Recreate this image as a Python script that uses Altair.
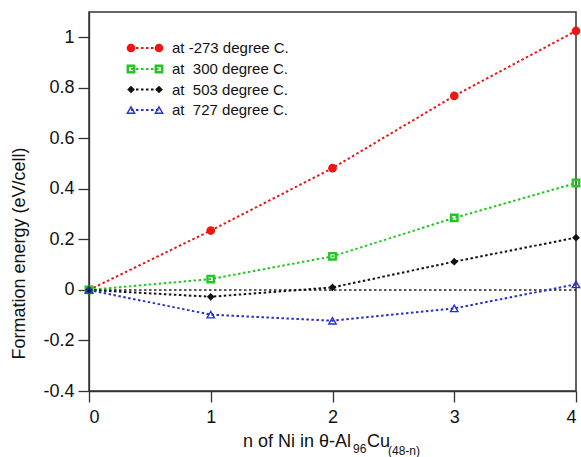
import altair as alt
import pandas as pd

n_values = [0, 1, 2, 3, 4]
series_names = ["at -273 degree C.", "at \u00a0300 degree C.", "at \u00a0503 degree C.", "at \u00a0727 degree C."]
red_vals = [0.0, 0.235, 0.482, 0.768, 1.025]
green_vals = [0.0, 0.043, 0.133, 0.285, 0.423]
black_vals = [0.0, -0.027, 0.010, 0.112, 0.207]
blue_vals = [0.0, -0.098, -0.122, -0.073, 0.022]
zero_x = [0, 4]
zero_y = [0, 0]
y_ticks = [-0.4, -0.2, 0, 0.2, 0.4, 0.6, 0.8, 1]
x_ticks = [0, 1, 2, 3, 4]

colors = ["#f01414", "#1ec81e", "#111111", "#2430d0"]
shapes = ["circle", "square", "diamond", "triangle-up"]
filled = [True, False, True, False]
sizes = [75, 42, 60, 55]
stroke_w = [1, 2.4, 1, 1.4]
all_vals = [red_vals, green_vals, black_vals, blue_vals]

FONT = "Liberation Sans"
W, H = 487, 379

xs = alt.Scale(domain=[0, 4], nice=False, zero=False)
ys = alt.Scale(domain=[-0.4, 1.1], nice=False, zero=False)

x_axis = alt.Axis(values=x_ticks, format="d", title=None, grid=False,
                  labelFontSize=18, labelFont=FONT, labelColor="#111",
                  tickSize=11, tickColor="#333", domainColor="#333",
                  labelPadding=6, tickWidth=1.3, domainWidth=1.3)
y_axis = alt.Axis(values=y_ticks, labelExpr="'' + datum.value",
                  title="Formation energy (eV/cell)", grid=False,
                  labelFontSize=18, labelFont=FONT, labelColor="#111",
                  titleFont=FONT, titleFontSize=18, titleFontWeight="normal",
                  titleColor="#111", titleX=-70, titleY=241,
                  titleBaseline="middle", titleAlign="center",
                  tickSize=11, tickColor="#333", domainColor="#333",
                  labelPadding=4, tickWidth=1.3, domainWidth=1.3)

zero_df = pd.DataFrame({"n": zero_x, "e": zero_y})
zero_line = alt.Chart(zero_df).mark_line(
    color="#222", strokeWidth=1.5, strokeDash=[2.5, 2.5]
).encode(x=alt.X("n:Q", scale=xs, axis=x_axis), y=alt.Y("e:Q", scale=ys, axis=y_axis))

layers = [zero_line]
for i, vals in enumerate(all_vals):
    df = pd.DataFrame({"n": n_values, "e": vals, "s": series_names[i]})
    line = alt.Chart(df).mark_line(
        color=colors[i], strokeWidth=2, strokeDash=[2.5, 2.5]
    ).encode(x=alt.X("n:Q", scale=xs), y=alt.Y("e:Q", scale=ys))
    layers.append(line)
for i, vals in enumerate(all_vals):
    df = pd.DataFrame({"n": n_values, "e": vals, "s": series_names[i]})
    pts = alt.Chart(df).mark_point(
        shape=shapes[i], filled=filled[i], size=sizes[i], color=colors[i],
        strokeWidth=stroke_w[i], opacity=1
    ).encode(x=alt.X("n:Q", scale=xs), y=alt.Y("e:Q", scale=ys))
    layers.append(pts)

# legend (inside plot, top-left)
one = pd.DataFrame({"a": [0]})
leg_rows = [36, 57, 77.5, 98]
for i in range(4):
    yv = leg_rows[i]
    layers.append(alt.Chart(one).mark_rule(
        color=colors[i], strokeWidth=2, strokeDash=[2.5, 2.5]
    ).encode(x=alt.value(42), x2=alt.value(70), y=alt.value(yv)))
    for xv in (42, 70):
        layers.append(alt.Chart(one).mark_point(
            shape=shapes[i], filled=filled[i], size=sizes[i], color=colors[i],
            strokeWidth=stroke_w[i], opacity=1
        ).encode(x=alt.value(xv), y=alt.value(yv)))
    layers.append(alt.Chart(one).mark_text(
        text=series_names[i], align="left", baseline="middle",
        font=FONT, fontSize=15, color="#111"
    ).encode(x=alt.value(83), y=alt.value(yv)))

# x-axis title with subscripts
title_parts = [("n of Ni in θ-Al", 154, 435, 18), ("96", 264, 441, 12),
               ("Cu", 278, 435, 18), ("(48-n)", 299, 443, 12)]
for txt, xv, yv, fs in title_parts:
    layers.append(alt.Chart(one).mark_text(
        text=txt, align="left", baseline="alphabetic",
        font=FONT, fontSize=fs, color="#111"
    ).encode(x=alt.value(xv), y=alt.value(yv)))

chart = alt.layer(*layers).properties(
    width=W, height=H,
    padding={"left": 89, "top": 12, "right": 5, "bottom": 66},
    autosize=alt.AutoSizeParams(type="none"),
    background="white",
).configure_view(stroke="#333", strokeWidth=1.5)

chart.save("out.html", embed_options={"renderer": "svg", "actions": False})
